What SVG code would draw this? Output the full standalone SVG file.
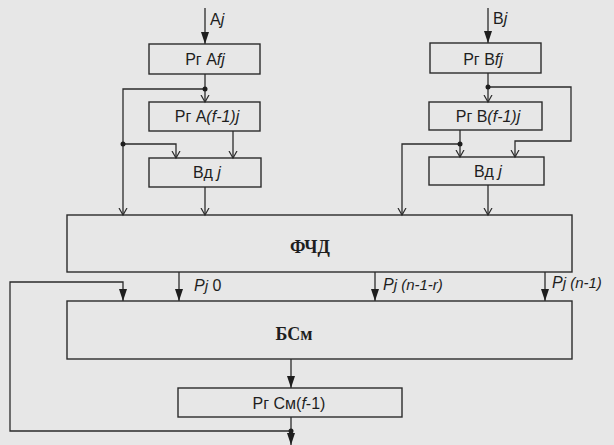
<svg xmlns="http://www.w3.org/2000/svg" width="614" height="445" viewBox="0 0 614 445">
<defs>
<style>
.box{fill:none;stroke:#2b2b2b;stroke-width:1.4}
.ln{fill:none;stroke:#2b2b2b;stroke-width:1.3}
.t{font-family:"Liberation Sans",Arial,sans-serif;font-size:16px;fill:#1e1e1e}
.b{font-family:"Liberation Serif","Times New Roman",serif;font-size:18px;font-weight:bold;fill:#1e1e1e}
.i{font-style:italic}
</style>
<marker id="fa" markerUnits="userSpaceOnUse" markerWidth="13" markerHeight="9" refX="12" refY="4.5" orient="auto">
<path d="M0,0.5 L12,4.5 L0,8.5 z" fill="#1e1e1e"/>
</marker>
<marker id="oa" markerUnits="userSpaceOnUse" markerWidth="9" markerHeight="10" refX="7" refY="5" orient="auto">
<path d="M0,1 L7,5 L0,9" fill="none" stroke="#2b2b2b" stroke-width="1.2"/>
</marker>
</defs>
<rect width="614" height="445" fill="#e7e7e7"/>

<g id="connectors">
<line class="ln" x1="205" y1="8" x2="205" y2="44" marker-end="url(#fa)"/>
<line class="ln" x1="488" y1="8" x2="488" y2="43" marker-end="url(#fa)"/>
<line class="ln" x1="205" y1="74" x2="205" y2="102" marker-end="url(#oa)"/>
<polyline class="ln" points="205,89 123,89 123,215" marker-end="url(#oa)"/>
<polyline class="ln" points="123,144 176,144 176,158" marker-end="url(#oa)"/>
<line class="ln" x1="233" y1="131" x2="233" y2="158" marker-end="url(#oa)"/>
<line class="ln" x1="205" y1="187" x2="205" y2="215" marker-end="url(#oa)"/>
<line class="ln" x1="488" y1="73" x2="488" y2="102" marker-end="url(#oa)"/>
<polyline class="ln" points="488,87 571,87 571,141 515,141 515,157" marker-end="url(#oa)"/>
<line class="ln" x1="460" y1="130" x2="460" y2="157" marker-end="url(#oa)"/>
<polyline class="ln" points="460,144 402,144 402,215" marker-end="url(#oa)"/>
<line class="ln" x1="488" y1="185" x2="488" y2="215" marker-end="url(#oa)"/>
<line class="ln" x1="179" y1="272" x2="179" y2="301" marker-end="url(#fa)"/>
<line class="ln" x1="375" y1="272" x2="375" y2="301" marker-end="url(#fa)"/>
<line class="ln" x1="545" y1="272" x2="545" y2="301" marker-end="url(#fa)"/>
<line class="ln" x1="291" y1="359" x2="291" y2="388" marker-end="url(#fa)"/>
<line class="ln" x1="291" y1="417" x2="291" y2="445" marker-end="url(#fa)"/>
<polyline class="ln" points="291,431 10,431 10,282 123,282 123,301" marker-end="url(#fa)"/>
<circle cx="205" cy="89" r="2.5" fill="#1e1e1e"/>
<circle cx="123" cy="144" r="2.5" fill="#1e1e1e"/>
<circle cx="488" cy="87" r="2.5" fill="#1e1e1e"/>
<circle cx="460" cy="144" r="2.5" fill="#1e1e1e"/>
<circle cx="291" cy="431" r="2.5" fill="#1e1e1e"/>
<text class="t" x="210" y="25" font-size="17">A<tspan class="i">j</tspan></text>
<text class="t" x="493" y="24" font-size="17">B<tspan class="i">j</tspan></text>
<text class="t i" x="194" y="291" font-size="17">P<tspan font-size="15">j</tspan><tspan font-style="normal" font-size="16"> 0</tspan></text>
<text class="t i" x="383" y="290" font-size="17">P<tspan font-size="15">j (n-1-r)</tspan></text>
<text class="t i" x="552" y="288" font-size="17">P<tspan font-size="15">j (n-1)</tspan></text>
</g>

<g id="rgAfj">
<rect class="box" x="149" y="44" width="111" height="30"/>
<text class="t" x="205" y="65" text-anchor="middle" font-size="17">Рг A<tspan class="i">fj</tspan></text>
</g>
<g id="rgAf1j">
<rect class="box" x="149" y="102" width="111" height="29"/>
<text class="t" x="207" y="122" text-anchor="middle">Рг A<tspan class="i">(f-1)j</tspan></text>
</g>
<g id="vdA">
<rect class="box" x="149" y="158" width="112" height="29"/>
<text class="t" x="207" y="178" text-anchor="middle" font-size="17">Вд <tspan class="i">j</tspan></text>
</g>
<g id="rgBfj">
<rect class="box" x="430" y="43" width="111" height="30"/>
<text class="t" x="483" y="65" text-anchor="middle" font-size="17">Рг B<tspan class="i">fj</tspan></text>
</g>
<g id="rgBf1j">
<rect class="box" x="429" y="102" width="113" height="28"/>
<text class="t" x="488" y="122" text-anchor="middle">Рг B<tspan class="i">(f-1)j</tspan></text>
</g>
<g id="vdB">
<rect class="box" x="429" y="157" width="115" height="28"/>
<text class="t" x="488" y="177" text-anchor="middle" font-size="17">Вд <tspan class="i">j</tspan></text>
</g>
<g id="fchd">
<rect class="box" x="67" y="215" width="505" height="57"/>
<text class="b" x="310" y="253" text-anchor="middle">ФЧД</text>
</g>
<g id="bsm">
<rect class="box" x="67" y="301" width="505" height="58"/>
<text class="b" x="294" y="340" text-anchor="middle">БСм</text>
</g>
<g id="rgSm">
<rect class="box" x="178" y="388" width="224" height="29"/>
<text class="t" x="289" y="409" text-anchor="middle" font-size="17">Рг См(<tspan class="i">f</tspan>-1)</text>
</g>
</svg>
